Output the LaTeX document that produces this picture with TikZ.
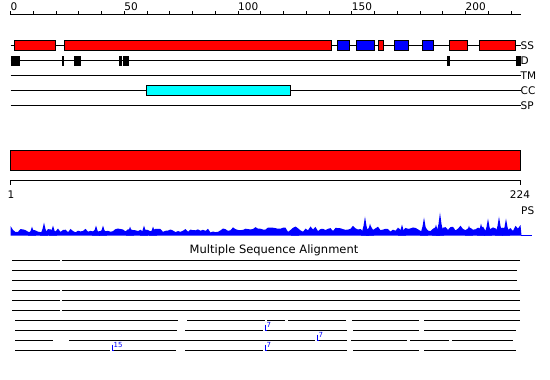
\documentclass[tikz,border=0pt]{standalone}
\usepackage{fontspec}
\setmainfont{DejaVu Sans}
\usepackage{xcolor}
\usetikzlibrary{calc,positioning}
\definecolor{ssred}{HTML}{FF0000}
\definecolor{ssblue}{HTML}{0000FF}
\definecolor{ccyan}{HTML}{00FFFF}
\definecolor{psblue}{HTML}{0000FF}

\tikzset{
  track/.style={line width=1pt},
  feat/.style={draw=black, line width=1pt},
  lbl/.style={anchor=west, inner sep=0pt, font=\fontsize{10.5}{12}\selectfont},
  ins/.style={anchor=south west, inner sep=0pt, text=psblue, font=\fontsize{7}{8}\selectfont}
}

\begin{document}
\begin{tikzpicture}[x=1pt,y=-1pt]
  \useasboundingbox (0,0) rectangle (550,380);

  % ruler
  \draw[track] (10.5,14.5) -- (520.5,14.5);
  \foreach \p in {0,10,...,220}
    \draw[track] ({10.5+2.275*\p},14.5) -- ({10.5+2.275*\p},10.5);
  \foreach \p in {0,50,...,200}
    \node[lbl, anchor=base west] (tick\p) at ({10.5+2.275*\p},10.5) {\p};

  % tracks
  \foreach \y in {45.5,60.5,75.5,90.5,105.5}
    \draw[track] (10.5,\y) -- (520.5,\y);
  \foreach \a/\b in {14.5/55.5,64.5/331.5,378.5/383.5,449.5/467.5,479.5/515.5}
    \draw[feat, fill=ssred] (\a,40.5) rectangle (\b,50.5);
  \foreach \a/\b in {337.5/349.5,356.5/374.5,394.5/408.5,422.5/433.5}
    \draw[feat, fill=ssblue] (\a,40.5) rectangle (\b,50.5);
  \foreach \a/\b in {10.5/19.5,62/64,73.5/80.5,119/121.5,123/128.5,447/450,515.5/520.5}
    \fill[black] (\a,55.5) rectangle (\b,65.5);
  \draw[feat, fill=ccyan] (146.5,85.5) rectangle (290.5,95.5);

  \node[lbl] (ss) at (520.5,45.5) {SS};
  \node[lbl] (dd) at (520.5,60.5) {D};
  \node[lbl] (tm) at (520.5,75.5) {TM};
  \node[lbl] (cc) at (520.5,90.5) {CC};
  \node[lbl] (sp) at (520.5,105.5) {SP};

  % whole sequence
  \draw[feat, fill=ssred] (10.5,150.5) rectangle (520.5,170.5);
  \draw[track] (10.5,184.5) -- (10.5,180.5) -- (520.5,180.5) -- (520.5,184.5);
  \node[lbl, anchor=center] (first) at (11,195) {1};
  \node[lbl, anchor=center] (last) at (520,195) {224};
  \node[lbl] (ps) at (521,210.5) {PS};

  % profile
  \pgfmathsetseed{17}
  \fill[psblue] (10.5,235.5) -- (10.5,226)
    \foreach \px in {13,15.5,...,518} { -- (\px,{235.5-3-4*rnd-(\px>230)*3*rnd}) }
    -- (520.5,225) -- (521.5,235.5) -- cycle;
  \foreach \px/\h in {32/9,44/13,53/10,96/10,103/10,130/9,144/10,153/9,295/8,365/19,370/12,
                      402/11,424/18,436/11,440/23,469/10,481/12,488/17,499/19,506/17}
    \fill[psblue] ({\px-4},235.5) -- ({\px-1.5},{235.5-0.5*\h}) -- (\px,{235.5-\h})
      -- ({\px+1.5},{235.5-0.5*\h}) -- ({\px+4},235.5) -- cycle;
  \draw[psblue, line width=1pt] (520.5,235.5) -- (532,235.5);

  % alignment
  \node[lbl, anchor=center, font=\fontsize{11.5}{13}\selectfont] (msa) at (274,250.5) {Multiple Sequence Alignment};
  \foreach \y/\segs in {
      260.5/{12/60,62/520}, 270.5/{12/517}, 280.5/{12/517},
      290.5/{12/60,62/520}, 300.5/{12/60,62/520}, 310.5/{12/60,62/520},
      320.5/{15/178,187/265,267/285,288/346,352/419,424/520},
      330.5/{15/177,185/263,266/347,353/419,424/516},
      340.5/{15/53,69/315,318/347,351/407,410/449,452/513},
      350.5/{15/110,113/176,185/263,266/347,353/419,424/516}}
    \foreach \a/\b in \segs
      \draw[track] (\a,\y) -- (\b,\y);
  \foreach \x/\y/\n in {265/330.5/7, 317/340.5/7, 112/350.5/15, 265/350.5/7} {
    \draw[psblue, line width=1pt] (\x,{\y-6}) -- (\x,\y) -- ({\x+2},\y);
    \node[ins] at ({\x+1.5},{\y-3}) {\n};
  }
\end{tikzpicture}
\end{document}
